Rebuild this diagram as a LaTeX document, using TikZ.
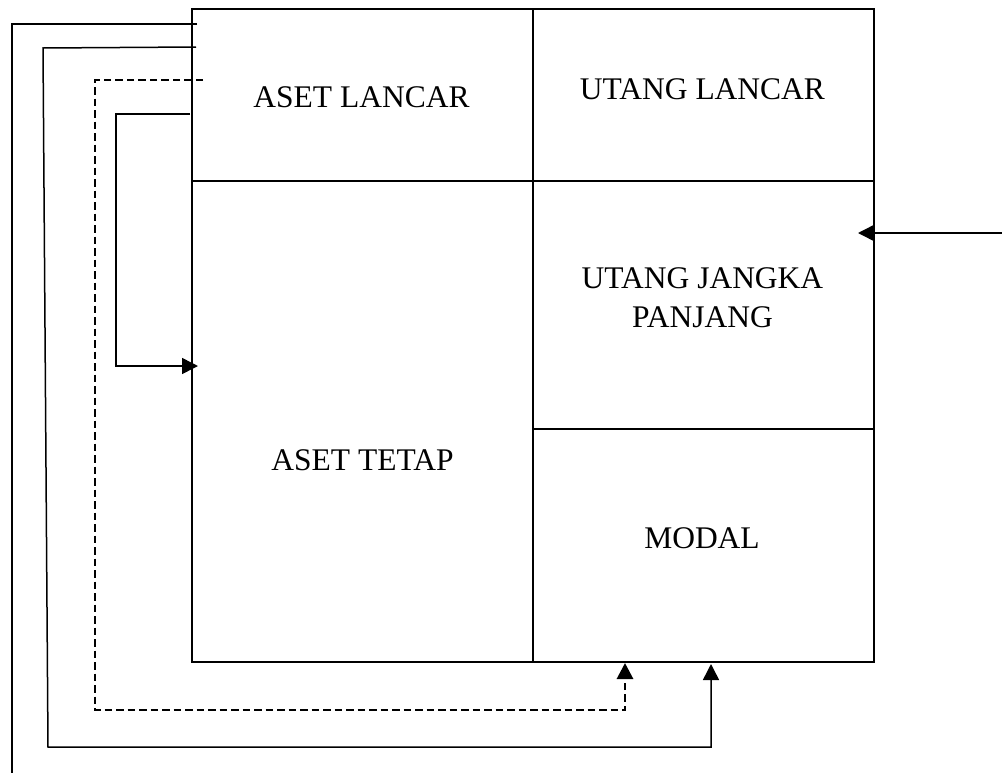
\documentclass[tikz,border=0pt]{standalone}
\usepackage{fontspec}
\setmainfont{Liberation Serif}
\usetikzlibrary{arrows.meta}
\begin{document}
\begin{tikzpicture}[x=1pt,y=-1pt,
  boxline/.style={line width=2.9pt},
  conn/.style={line width=1.5pt},
  dconn/.style={line width=2.9pt, dash pattern=on 7.5pt off 4pt},
  tip/.style={-{Triangle[length=16pt,width=16pt]}},
  lbl/.style={font=\fontsize{31.5}{37}\selectfont, inner sep=0pt, anchor=base, align=center}]
\useasboundingbox (0,0) rectangle (1002,774);
% grid
\draw[boxline] (192,9) rectangle (874,662);
\draw[boxline] (533,9) -- (533,662);
\draw[boxline] (192,181) -- (874,181);
\draw[boxline] (533,429) -- (874,429);
% labels
\node[lbl] (al) at (361.5,107) {ASET LANCAR};
\node[lbl] (ul) at (702.5,99) {UTANG LANCAR};
\node[lbl] (ujp) at (702.5,327) {UTANG JANGKA\\[2pt]PANJANG};
\node[lbl] (at) at (362.5,470) {ASET TETAP};
\node[lbl] (md) at (702,548) {MODAL};
% connector points
\coordinate (s1) at (197,24);
\coordinate (e1) at (12,773);
\coordinate (s2) at (196,47);
\coordinate (c2) at (43,48);
\coordinate (d2) at (48,747);
\coordinate (t2) at (711,664);
\coordinate (s3) at (203,80);
\coordinate (c3) at (95,710);
\coordinate (t3) at (625,663);
\coordinate (s4) at (190,114);
\coordinate (c4) at (116,366);
\coordinate (t4) at (198,366);
\coordinate (s5) at (1002,233);
\coordinate (t5) at (858,233);
% connectors
\draw[conn] (s1) -| (e1);
\draw[conn,tip] (s2) -- (c2) -- (d2) -| (t2);
\draw[dconn,tip] (s3) -| (c3) -| (t3);
\draw[conn,tip] (s4) -| (c4) -- (t4);
\draw[conn,tip] (s5) -- (t5);
\end{tikzpicture}
\end{document}
